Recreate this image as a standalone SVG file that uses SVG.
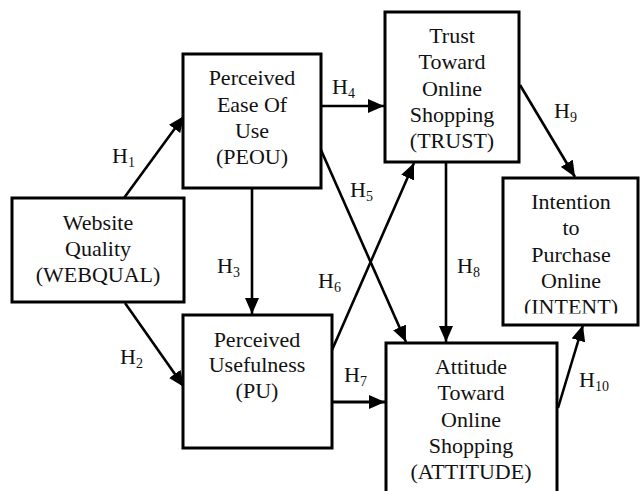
<svg xmlns="http://www.w3.org/2000/svg" width="641" height="491" viewBox="0 0 641 491">
<style>
.box{fill:#fff;stroke:#000;stroke-width:3}
.t{font-family:"Liberation Serif","Times New Roman",serif;font-size:22px;fill:#111;text-anchor:middle}
.h{font-family:"Liberation Serif","Times New Roman",serif;font-size:22px;fill:#111}
.h tspan{font-size:14px}
.ln{stroke:#000;stroke-width:2.6;fill:none;marker-end:url(#ah)}
</style>
<defs>
<marker id="ah" markerUnits="userSpaceOnUse" markerWidth="16" markerHeight="14" refX="16" refY="7" orient="auto"><path d="M0,0 L16,7 L0,14 z" fill="#000"/></marker>
<clipPath id="ic"><rect x="503" y="178" width="138" height="135.5"/></clipPath>
</defs>
<g id="connectors">
<line class="ln" x1="124" y1="198" x2="184" y2="116"/>
<line class="ln" x1="125" y1="303" x2="184" y2="387"/>
<line class="ln" x1="252" y1="188" x2="252" y2="314"/>
<line class="ln" x1="321" y1="106" x2="384" y2="106"/>
<line class="ln" x1="321" y1="150" x2="406" y2="342"/>
<line class="ln" x1="332" y1="350" x2="414" y2="163"/>
<line class="ln" x1="332" y1="402" x2="385" y2="402" style="stroke-width:3.2"/>
<line class="ln" x1="446" y1="162" x2="446" y2="342"/>
<line class="ln" x1="520" y1="85" x2="575" y2="177"/>
<line class="ln" x1="558" y1="408" x2="583" y2="325"/>
</g>
<g id="labels">
<text class="h" x="112" y="163">H<tspan dy="4">1</tspan></text>
<text class="h" x="120" y="364">H<tspan dy="4">2</tspan></text>
<text class="h" x="217" y="273">H<tspan dy="4">3</tspan></text>
<text class="h" x="332" y="94">H<tspan dy="4">4</tspan></text>
<text class="h" x="350" y="197">H<tspan dy="4">5</tspan></text>
<text class="h" x="318" y="288">H<tspan dy="4">6</tspan></text>
<text class="h" x="344" y="382">H<tspan dy="4">7</tspan></text>
<text class="h" x="457" y="273">H<tspan dy="4">8</tspan></text>
<text class="h" x="554" y="118">H<tspan dy="4">9</tspan></text>
<text class="h" x="579" y="387">H<tspan dy="4">10</tspan></text>
</g>
<g id="webqual">
<rect class="box" x="12" y="198" width="172" height="104"/>
<text class="t" x="98" y="230">Website</text>
<text class="t" x="98" y="256">Quality</text>
<text class="t" x="98" y="282">(WEBQUAL)</text>
</g>
<g id="peou">
<rect class="box" x="183" y="54" width="138" height="134"/>
<text class="t" x="252" y="85">Perceived</text>
<text class="t" x="252" y="112">Ease Of</text>
<text class="t" x="252" y="138">Use</text>
<text class="t" x="252" y="164">(PEOU)</text>
</g>
<g id="trust">
<rect class="box" x="385" y="12" width="134" height="150"/>
<text class="t" x="452" y="43">Trust</text>
<text class="t" x="452" y="69">Toward</text>
<text class="t" x="452" y="96">Online</text>
<text class="t" x="452" y="122">Shopping</text>
<text class="t" x="452" y="148">(TRUST)</text>
</g>
<g id="intent">
<rect class="box" x="503" y="178" width="135" height="147"/>
<g clip-path="url(#ic)">
<text class="t" x="571" y="209">Intention</text>
<text class="t" x="571" y="235">to</text>
<text class="t" x="571" y="262">Purchase</text>
<text class="t" x="571" y="288">Online</text>
<text class="t" x="571" y="314">(INTENT)</text>
</g>
</g>
<g id="pu">
<rect class="box" x="183" y="315" width="149" height="133"/>
<text class="t" x="257" y="347">Perceived</text>
<text class="t" x="257" y="372">Usefulness</text>
<text class="t" x="257" y="398">(PU)</text>
</g>
<g id="attitude">
<rect class="box" x="386" y="343" width="171" height="160"/>
<text class="t" x="471" y="374">Attitude</text>
<text class="t" x="471" y="400">Toward</text>
<text class="t" x="471" y="427">Online</text>
<text class="t" x="471" y="453">Shopping</text>
<text class="t" x="471" y="479">(ATTITUDE)</text>
</g>
</svg>
